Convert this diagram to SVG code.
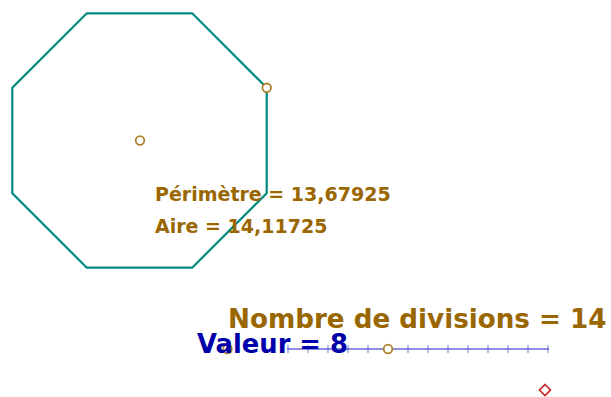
<svg xmlns="http://www.w3.org/2000/svg" width="611" height="397" viewBox="0 0 611 397">
<style>
.pt{fill:#fff;stroke:#b08030;stroke-width:1.8}
.lbl{font-family:"DejaVu Sans",sans-serif;font-weight:bold;fill:#996600}
.val{font-family:"DejaVu Sans",sans-serif;font-weight:bold;fill:#0000aa}
.tick{stroke:#4444dd;stroke-opacity:0.7;stroke-width:1}
</style>
<rect width="611" height="397" fill="#fff"/>
<g id="octagon">
<polygon points="266.7,87.8 192.2,13.3 86.8,13.3 12.3,87.8 12.3,193.2 86.8,267.7 192.2,267.7 266.7,193.2" fill="none" stroke="#008a80" stroke-width="2.2"/>
</g>
<g id="measures">
<text class="lbl" x="155" y="200.5" font-size="19">Périmètre = 13,67925</text>
<text class="lbl" x="155" y="233" font-size="19">Aire = 14,11725</text>
</g>
<g id="slider">
<line x1="287" y1="349" x2="549" y2="349" stroke="#3333cc" stroke-opacity="0.75" stroke-width="1.6"/>
<g class="tick">
<line x1="288" y1="345" x2="288" y2="353"/><line x1="308" y1="345" x2="308" y2="353"/><line x1="328" y1="345" x2="328" y2="353"/><line x1="348" y1="345" x2="348" y2="353"/><line x1="368" y1="345" x2="368" y2="353"/><line x1="388" y1="345" x2="388" y2="353"/><line x1="408" y1="345" x2="408" y2="353"/><line x1="428" y1="345" x2="428" y2="353"/><line x1="448" y1="345" x2="448" y2="353"/><line x1="468" y1="345" x2="468" y2="353"/><line x1="488" y1="345" x2="488" y2="353"/><line x1="508" y1="345" x2="508" y2="353"/><line x1="528" y1="345" x2="528" y2="353"/><line x1="548" y1="345" x2="548" y2="353"/>
</g>
</g>
<g id="labels">
<text class="lbl" x="228" y="328" font-size="26.2">Nombre de divisions = 14</text>
</g>
<g id="points">
<circle class="pt" cx="140" cy="140.5" r="4.3"/>
<circle class="pt" cx="266.7" cy="87.8" r="4.3"/>
<circle class="pt" cx="227.5" cy="349" r="4.3"/>
<circle class="pt" cx="388" cy="349" r="4.3"/>
</g>
<g id="valeur">
<text class="val" x="197" y="353" font-size="25.8">Valeur = 8</text>
</g>
<g id="diamond">
<polygon points="545,384.5 550.5,390 545,395.5 539.5,390" fill="#fff" stroke="#cc2020" stroke-width="1.6"/>
</g>
</svg>
